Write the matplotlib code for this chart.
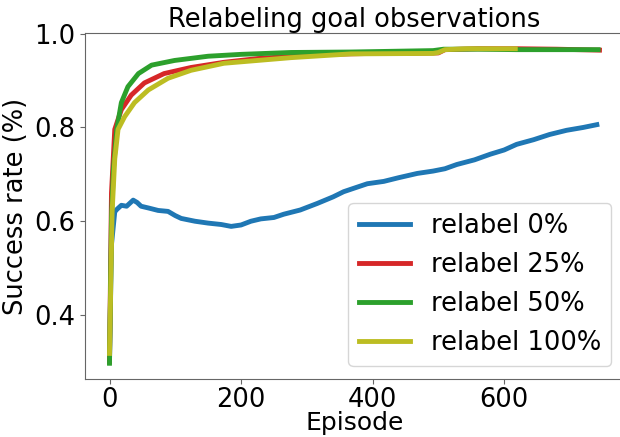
import numpy as np
import matplotlib
matplotlib.use('Agg')
from matplotlib import pyplot as plt

# values (running success rate per episode)
ep_0 = [0, 3, 8, 11, 18, 26, 36, 42, 48, 60, 74, 89, 100, 109, 130, 150, 170, 185,
        200, 215, 230, 250, 265, 290, 316, 340, 356, 375, 392, 417, 440, 468, 492,
        510, 528, 555, 579, 600, 619, 645, 669, 695, 720, 741]
rate_0 = [0.30, 0.55, 0.62, 0.625, 0.634, 0.632, 0.645, 0.640, 0.632, 0.628, 0.623,
          0.621, 0.612, 0.606, 0.600, 0.596, 0.593, 0.589, 0.592, 0.600, 0.605, 0.608,
          0.615, 0.624, 0.638, 0.652, 0.663, 0.672, 0.680, 0.685, 0.693, 0.702, 0.707,
          0.712, 0.721, 0.731, 0.743, 0.752, 0.764, 0.774, 0.785, 0.794, 0.800, 0.806]

ep_25 = [0, 3, 8, 18, 33, 53, 83, 124, 174, 225, 276, 330, 400, 450, 500, 510,
         560, 620, 680, 745]
rate_25 = [0.30, 0.66, 0.796, 0.838, 0.869, 0.895, 0.915, 0.928, 0.939, 0.947, 0.952,
           0.956, 0.958, 0.958, 0.959, 0.966, 0.968, 0.968, 0.967, 0.965]

ep_50 = [0, 3, 6, 11, 18, 28, 44, 64, 99, 150, 200, 276, 367, 492, 508, 560, 619,
         680, 743]
rate_50 = [0.297, 0.606, 0.712, 0.796, 0.853, 0.887, 0.915, 0.933, 0.943, 0.952,
           0.956, 0.960, 0.961, 0.964, 0.967, 0.967, 0.966, 0.966, 0.966]

ep_100 = [0, 4, 8, 13, 23, 38, 59, 89, 124, 174, 225, 276, 367, 492, 500, 510,
          544, 580, 617]
rate_100 = [0.318, 0.62, 0.733, 0.796, 0.823, 0.853, 0.880, 0.905, 0.922, 0.937,
            0.943, 0.949, 0.957, 0.958, 0.960, 0.966, 0.968, 0.968, 0.968]

labels = ['relabel 0%', 'relabel 25%', 'relabel 50%', 'relabel 100%']
colors = ['tab:blue', 'tab:red', 'tab:green', 'tab:olive']
fs = 18.5

fig = plt.figure(figsize=(6.2, 4.37), dpi=100)
ax = fig.add_axes([85 / 620, 58 / 437, 539 / 620, 346 / 437])

series = [(ep_0, rate_0), (ep_25, rate_25), (ep_50, rate_50), (ep_100, rate_100)]
for (x, y), lab, col in zip(series, labels, colors):
   ax.plot(x, y, color=col, linewidth=3.5, label=lab)

ax.set_title('Relabeling goal observations', fontsize=fs, pad=4)
ax.set_xlabel('Episode', fontsize=18, labelpad=-1.5)
ax.set_ylabel('Success rate (%)', fontsize=fs)
ax.set_xticks([0, 200, 400, 600])
ax.set_yticks([0.4, 0.6, 0.8, 1.0])
ax.tick_params(labelsize=fs, color='#666666')
ax.tick_params(axis='x', pad=2.5)
for s in ax.spines.values():
   s.set_color('#666666')
ax.legend(loc='lower right', fontsize=fs)

plt.savefig('out.png', dpi=100)
